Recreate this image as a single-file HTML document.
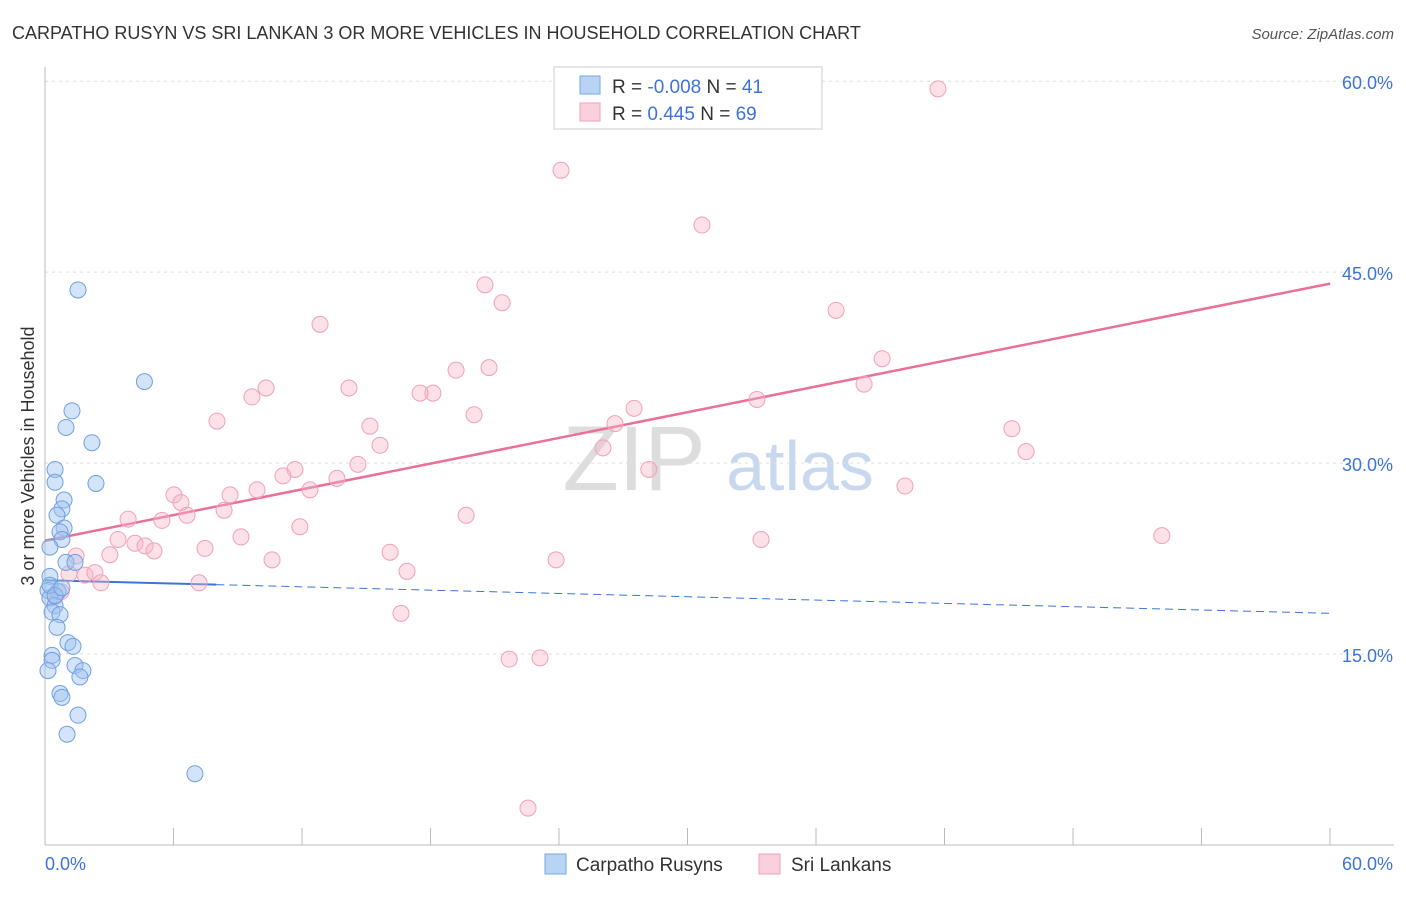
<!DOCTYPE html>
<html><head><meta charset="utf-8"><style>
body{margin:0;background:#fff;font-family:"Liberation Sans",sans-serif}
svg text{font-family:"Liberation Sans",sans-serif}
</style></head><body>
<svg id="c" width="1406" height="892">
<text x="12" y="39" font-size="18" fill="#333">CARPATHO RUSYN VS SRI LANKAN 3 OR MORE VEHICLES IN HOUSEHOLD CORRELATION CHART</text>
<text x="1394" y="39" font-size="15" fill="#555" font-style="italic" text-anchor="end">Source: ZipAtlas.com</text>
<text x="634" y="490" font-size="92" fill="#ddd" font-family="Liberation Serif" text-anchor="middle">ZIP</text>
<text x="800" y="490" font-size="70" fill="#c8d8ee" text-anchor="middle">atlas</text>
<g id="grid"></g><g id="axes"></g><g id="lines"></g><g id="pts"></g>
<text transform="translate(34,456) rotate(-90)" font-size="18" fill="#333" text-anchor="middle">3 or more Vehicles in Household</text>
<g>
<rect x="554" y="67" width="268" height="62" fill="#fff" stroke="#ccc"/>
<rect x="580" y="76" width="20" height="18" fill="#b8d4f5" stroke="#7aa7e0"/>
<rect x="580" y="103" width="20" height="18" fill="#fbd0dd" stroke="#f0a0b8"/>
<text x="612" y="93" font-size="19" fill="#333">R = <tspan fill="#3d74d6">-0.008</tspan>   N = <tspan fill="#3d74d6">41</tspan></text>
<text x="612" y="120" font-size="19" fill="#333">R =   <tspan fill="#3d74d6">0.445</tspan>   N = <tspan fill="#3d74d6">69</tspan></text>
</g>
<g>
<rect x="545" y="854" width="21" height="20" fill="#b8d4f5" stroke="#7aa7e0"/>
<text x="576" y="871" font-size="19" fill="#333">Carpatho Rusyns</text>
<rect x="759" y="854" width="21" height="20" fill="#fbd0dd" stroke="#f0a0b8"/>
<text x="791" y="871" font-size="19" fill="#333">Sri Lankans</text>
</g>
</svg>
<script>
const yTicks=[15,30,45,60];
const xTickLabels=["0.0%","60.0%"];
const blueX=[1.54,4.64,1.26,0.98,2.19,0.47,0.47,2.38,0.89,0.79,0.56,0.89,0.70,0.79,0.23,0.98,1.40,0.23,0.14,0.61,0.23,0.47,0.33,0.70,0.56,1.07,1.31,0.33,0.33,1.40,1.77,0.14,1.63,0.70,0.79,1.54,1.03,7.00,0.23,0.47,0.79];
const blueY=[43.6,36.4,34.1,32.8,31.6,29.5,28.5,28.4,27.1,26.4,25.9,24.9,24.6,24.0,23.4,22.2,22.2,21.1,20.0,19.9,19.4,18.8,18.3,18.1,17.1,15.9,15.6,14.9,14.5,14.1,13.7,13.7,13.2,11.9,11.6,10.2,8.7,5.6,20.4,19.6,20.2];
const pinkX=[35.25,41.69,24.09,30.67,20.54,21.34,36.93,12.84,39.08,10.32,14.19,9.66,18.11,19.19,20.73,17.51,38.24,33.24,27.50,20.03,8.03,26.61,15.17,15.64,26.05,45.14,45.80,14.61,11.67,11.11,13.63,28.19,12.37,40.15,6.02,6.35,8.64,9.90,8.36,6.63,5.46,3.88,19.66,11.90,9.15,3.41,4.20,4.67,5.09,7.47,33.43,52.14,1.45,3.03,16.11,23.86,10.60,1.12,1.87,2.33,16.90,2.61,7.19,0.75,0.47,16.62,21.67,23.11,22.55];
const pinkY=[59.6,59.4,53.0,48.7,44.0,42.6,42.0,40.9,38.2,35.9,35.9,35.2,35.5,37.3,37.5,35.5,36.2,35.0,34.3,33.8,33.3,33.1,32.9,31.4,31.2,32.7,30.9,29.9,29.5,29.0,28.8,29.5,27.9,28.2,27.5,26.9,27.5,27.9,26.3,25.9,25.5,25.6,25.9,25.0,24.2,24.0,23.7,23.5,23.1,23.3,24.0,24.3,22.7,22.8,23.0,22.4,22.4,21.3,21.2,21.4,21.5,20.6,20.6,19.9,19.5,18.2,14.6,14.7,2.9];
const blueTrend=[20.8,18.2], blueSolidEnd=8.0;
const pinkTrend=[23.9,44.1];
const X=v=>45+v*21.42, Y=v=>845-v*12.73;
const NS="http://www.w3.org/2000/svg";
function mk(t,a,p){const e=document.createElementNS(NS,t);for(const k in a)e.setAttribute(k,a[k]);p.appendChild(e);return e;}
const g=document.getElementById('grid'),ax=document.getElementById('axes'),ln=document.getElementById('lines'),pt=document.getElementById('pts');
yTicks.forEach(v=>{
 const l=mk('line',{x1:45,x2:1394,y1:Y(v),y2:Y(v),stroke:'#ddd','stroke-dasharray':'3,4'},g);
 
 
 const t=mk('text',{x:1393,y:Y(v)+8,'font-size':18,fill:'#3d74d6','text-anchor':'end'},ax);t.textContent=v.toFixed(1)+'%';
 
 
});
mk('line',{x1:45,x2:45,y1:67,y2:845,stroke:'#bbb'},ax);
mk('line',{x1:45,x2:1394,y1:845,y2:845,stroke:'#bbb'},ax);
for(let i=0;i<=10;i++){const x=45+i*128.5;const l=mk('line',{x1:x,x2:x,y1:828,y2:845,stroke:'#bbb'},ax);
 
 }
[[0,45,'start'],[60,1393,'end']].forEach((d,i)=>{const t=mk('text',{x:d[1],y:870,'font-size':18,fill:'#3d74d6','text-anchor':d[2]},ax);t.textContent=xTickLabels[i];
 
 });
const bs=blueTrend[0]+(blueTrend[1]-blueTrend[0])*blueSolidEnd/60;
let l1=mk('line',{x1:X(0),y1:Y(blueTrend[0]),x2:X(blueSolidEnd),y2:Y(bs),stroke:'#3d74d6','stroke-width':2},ln);


let l2=mk('line',{x1:X(blueSolidEnd),y1:Y(bs),x2:X(60),y2:Y(blueTrend[1]),stroke:'#3d74d6','stroke-width':1,'stroke-dasharray':'8,5'},ln);


let l3=mk('line',{x1:X(0),y1:Y(pinkTrend[0]),x2:X(60),y2:Y(pinkTrend[1]),stroke:'#e8709a','stroke-width':2.5},ln);


pinkX.forEach((x,i)=>{const c=mk('circle',{cx:X(x),cy:Y(pinkY[i]),r:8,fill:'rgba(248,180,200,0.4)',stroke:'#f0a0b8','stroke-width':1},pt);
 
 });
blueX.forEach((x,i)=>{const c=mk('circle',{cx:X(x),cy:Y(blueY[i]),r:8,fill:'rgba(160,195,240,0.45)',stroke:'#6f9fe0','stroke-width':1},pt);
 
 });
</script>
</body></html>
